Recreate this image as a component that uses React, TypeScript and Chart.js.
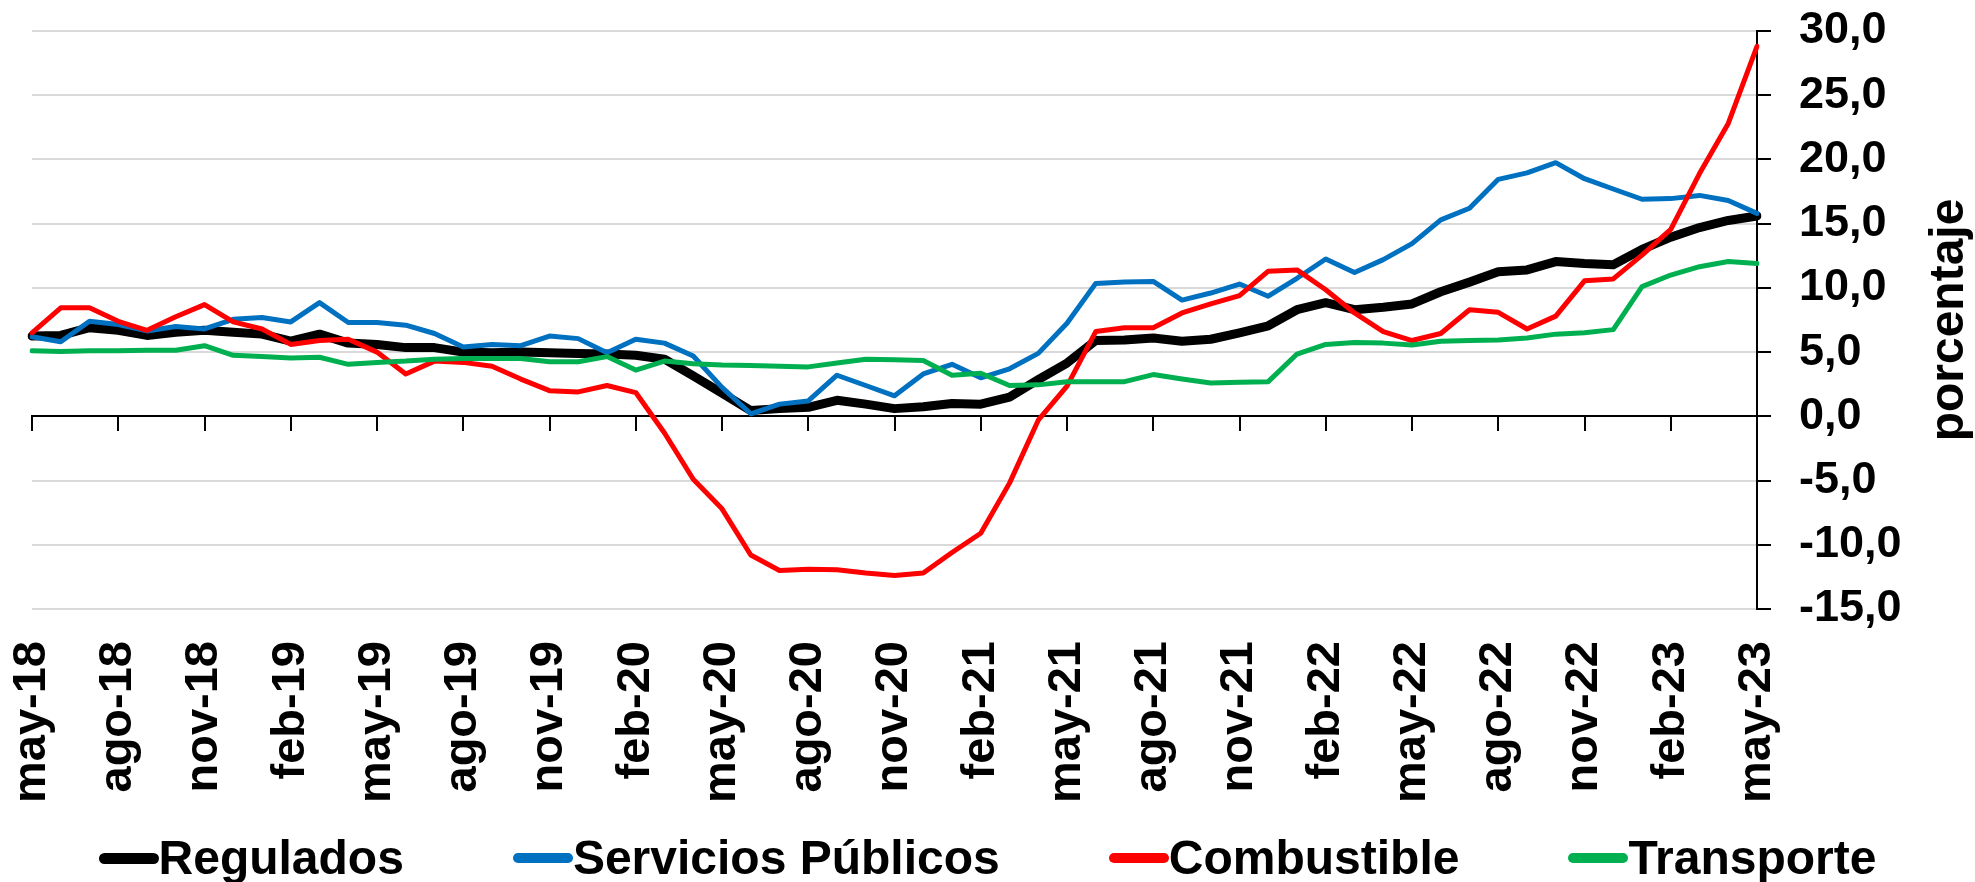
import React, { useEffect, useRef } from 'react';
import { Chart, registerables } from 'chart.js';

Chart.register(...registerables);

const months = [
  'may-18', 'jun-18', 'jul-18', 'ago-18', 'sep-18', 'oct-18', 'nov-18', 'dic-18',
  'ene-19', 'feb-19', 'mar-19', 'abr-19', 'may-19', 'jun-19', 'jul-19', 'ago-19', 'sep-19', 'oct-19', 'nov-19', 'dic-19',
  'ene-20', 'feb-20', 'mar-20', 'abr-20', 'may-20', 'jun-20', 'jul-20', 'ago-20', 'sep-20', 'oct-20', 'nov-20', 'dic-20',
  'ene-21', 'feb-21', 'mar-21', 'abr-21', 'may-21', 'jun-21', 'jul-21', 'ago-21', 'sep-21', 'oct-21', 'nov-21', 'dic-21',
  'ene-22', 'feb-22', 'mar-22', 'abr-22', 'may-22', 'jun-22', 'jul-22', 'ago-22', 'sep-22', 'oct-22', 'nov-22', 'dic-22',
  'ene-23', 'feb-23', 'mar-23', 'abr-23', 'may-23',
];

const regulados = [
  6.25, 6.3, 6.9, 6.7, 6.3, 6.55, 6.7, 6.55, 6.4, 5.85,
  6.4, 5.7, 5.6, 5.35, 5.35, 5.0, 4.95, 5.0, 4.95, 4.9,
  4.85, 4.75, 4.45, 3.15, 1.8, 0.45, 0.6, 0.7, 1.25, 0.95,
  0.6, 0.75, 1.0, 0.95, 1.5, 2.85, 4.15, 5.9, 5.95, 6.1,
  5.85, 6.0, 6.5, 7.05, 8.3, 8.85, 8.3, 8.5, 8.75, 9.7,
  10.45, 11.25, 11.4, 12.05, 11.9, 11.8, 13.0, 13.95, 14.7, 15.25,
  15.6,
];

const serviciosPublicos = [
  6.2, 5.8, 7.4, 7.15, 6.65, 7.0, 6.8, 7.55, 7.7, 7.35,
  8.85, 7.3, 7.3, 7.1, 6.45, 5.4, 5.6, 5.5, 6.25, 6.05,
  4.95, 6.0, 5.7, 4.7, 2.25, 0.2, 0.95, 1.2, 3.2, 2.4,
  1.6, 3.3, 4.05, 3.0, 3.7, 4.9, 7.25, 10.35, 10.45, 10.5,
  9.05, 9.6, 10.3, 9.35, 10.75, 12.25, 11.2, 12.2, 13.45, 15.3,
  16.2, 18.45, 18.95, 19.75, 18.5, 17.7, 16.9, 16.95, 17.2, 16.8,
  15.8,
];

const combustible = [
  6.5, 8.45, 8.45, 7.4, 6.7, 7.75, 8.7, 7.35, 6.8, 5.6,
  5.9, 6.0, 5.0, 3.3, 4.3, 4.2, 3.9, 2.9, 2.0, 1.9,
  2.4, 1.85, -1.3, -4.9, -7.2, -10.8, -12.0, -11.9, -11.95, -12.2,
  -12.4, -12.2, -10.6, -9.1, -5.2, -0.3, 2.35, 6.6, 6.9, 6.9,
  8.05, 8.75, 9.4, 11.3, 11.4, 9.85, 8.05, 6.6, 5.9, 6.45,
  8.3, 8.1, 6.8, 7.8, 10.55, 10.7, 12.55, 14.55, 18.9, 22.8,
  28.8,
];

const transporte = [
  5.1, 5.05, 5.1, 5.1, 5.15, 5.15, 5.5, 4.75, 4.65, 4.55,
  4.6, 4.05, 4.2, 4.3, 4.45, 4.5, 4.5, 4.5, 4.25, 4.25,
  4.65, 3.6, 4.3, 4.1, 4.0, 3.95, 3.9, 3.85, 4.15, 4.45,
  4.4, 4.35, 3.2, 3.35, 2.4, 2.45, 2.7, 2.7, 2.7, 3.25,
  2.9, 2.6, 2.65, 2.7, 4.85, 5.6, 5.75, 5.7, 5.55, 5.85,
  5.9, 5.95, 6.1, 6.4, 6.5, 6.75, 10.1, 11.0, 11.65, 12.05,
  11.9,
];

const seriesNames = ['Regulados', 'Servicios Públicos', 'Combustible', 'Transporte'];
const seriesColors = ['#000000', '#0070C0', '#FF0000', '#00B050'];
const yTicks = { min: -15, max: 30, step: 5 };
const yTitle = 'porcentaje';

const FONT = "Arial, 'Liberation Sans', Helvetica, sans-serif";

export default function App() {
  const ref = useRef<HTMLCanvasElement | null>(null);

  useEffect(() => {
    if (!ref.current) return;
    const titlePlugin = {
      id: 'yTitleRotated',
      afterDraw(chart: any) {
        const { ctx, chartArea } = chart;
        ctx.save();
        ctx.translate(1963, (chartArea.top + chartArea.bottom) / 2);
        ctx.rotate(-Math.PI / 2);
        ctx.font = `bold 48px ${FONT}`;
        ctx.fillStyle = '#000';
        ctx.textAlign = 'center';
        ctx.textBaseline = 'alphabetic';
        ctx.fillText(yTitle, 0, 0);
        ctx.restore();
      },
    };

    const values = [regulados, serviciosPublicos, combustible, transporte];
    const widths = [9, 5, 5, 5];

    const chart = new Chart(ref.current, {
      type: 'line',
      data: {
        labels: months,
        datasets: values.map((d, i) => ({
          label: seriesNames[i],
          data: d,
          borderColor: seriesColors[i],
          backgroundColor: seriesColors[i],
          borderWidth: widths[i],
          pointRadius: 0,
          pointHoverRadius: 0,
          tension: 0,
          fill: false,
          borderJoinStyle: 'round' as const,
          borderCapStyle: 'round' as const,
          order: 4 - i,
          xAxisID: 'x',
          yAxisID: 'y',
        })),
      },
      options: {
        responsive: false,
        maintainAspectRatio: false,
        animation: false,
        layout: { padding: { left: 0, top: 31, right: 0, bottom: 0 } },
        plugins: {
          legend: { display: false },
          tooltip: { enabled: false },
        },
        scales: {
          x: {
            type: 'category',
            position: { y: 0 } as any,
            offset: false,
            grid: {
              display: true,
              drawOnChartArea: false,
              drawTicks: true,
              tickLength: 14,
              lineWidth: 2,
              color: (c: any) => (c.index % 3 === 0 ? '#000000' : 'rgba(0,0,0,0)'),
              tickColor: (c: any) => (c.index % 3 === 0 ? '#000000' : 'rgba(0,0,0,0)'),
            },
            border: { display: true, color: '#000000', width: 2 },
            ticks: { display: false, autoSkip: false },
          },
          x2: {
            type: 'category',
            position: 'bottom',
            offset: false,
            grid: { display: false, drawTicks: false },
            border: { display: false },
            ticks: {
              autoSkip: false,
              minRotation: 90,
              maxRotation: 90,
              padding: 32,
              color: '#000000',
              font: { family: FONT, size: 47, weight: 'bold' },
              callback: (_v: any, i: number) => (i % 3 === 0 ? months[i] : ''),
            },
            afterFit: (s: any) => {
              s.height = 273;
              s.paddingTop = 0;
              s.paddingBottom = 0;
            },
          },
          y: {
            position: 'right',
            min: yTicks.min,
            max: yTicks.max,
            grid: {
              color: '#D9D9D9',
              lineWidth: 2,
              tickColor: '#000000',
              tickLength: 14,
              drawTicks: true,
            },
            border: { display: true, color: '#000000', width: 2 },
            ticks: {
              stepSize: yTicks.step,
              padding: 28,
              color: '#000000',
              font: { family: FONT, size: 45, weight: 'bold' },
              callback: (v: any) => Number(v).toFixed(1).replace('.', ','),
            },
            afterFit: (s: any) => {
              s.width = 218;
              s.paddingTop = 0;
              s.paddingBottom = 0;
            },
          },
        },
      } as any,
      plugins: [titlePlugin],
    });

    return () => chart.destroy();
  }, []);

  return (
    <div style={{ position: 'fixed', left: 0, top: 0, width: 1975, height: 882, background: '#fff', overflow: 'hidden' }}>
      <canvas ref={ref} width={1975} height={882} style={{ display: 'block', width: 1975, height: 882 }} />
      <div
        style={{
          position: 'absolute',
          left: 0,
          top: 834,
          width: 1975,
          height: 48,
          display: 'flex',
          justifyContent: 'center',
          alignItems: 'center',
          gap: 109,
          fontFamily: FONT,
          fontWeight: 'bold',
          fontSize: 48,
          lineHeight: '48px',
          color: '#000',
        }}
      >
        {seriesNames.map((n, i) => (
          <div key={n} style={{ display: 'flex', alignItems: 'center' }}>
            <span
              style={{
                display: 'inline-block',
                width: 60,
                height: i === 0 ? 11 : 10,
                borderRadius: 6,
                background: seriesColors[i],
              }}
            />
            <span style={{ whiteSpace: 'nowrap' }}>{n}</span>
          </div>
        ))}
      </div>
    </div>
  );
}
